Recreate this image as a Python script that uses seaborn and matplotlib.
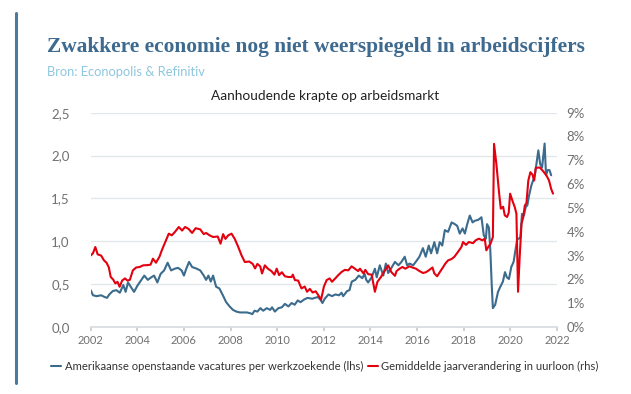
#!/usr/bin/env python3
"""vacatures per werkzoekende vs uurloon - recreate chart"""

import matplotlib.pyplot as plt
import matplotlib.ticker as mticker
import pandas as pd
import seaborn as sns
from matplotlib.lines import Line2D

# openstaande vacatures per werkzoekende (lhs)
vac_year = [2002.0, 2002.1, 2002.25, 2002.45, 2002.6, 2002.7, 2002.8, 2002.95, 2003.1, 2003.25,
            2003.4, 2003.5, 2003.6, 2003.72, 2003.86, 2004.0, 2004.15, 2004.3, 2004.45, 2004.6,
            2004.72, 2004.86, 2005.0, 2005.15, 2005.3, 2005.45, 2005.6, 2005.75, 2005.9, 2006.0,
            2006.1, 2006.22, 2006.35, 2006.55, 2006.7, 2006.85, 2006.95, 2007.05, 2007.15, 2007.25,
            2007.38, 2007.52, 2007.67, 2007.81, 2007.96, 2008.1, 2008.25, 2008.4, 2008.7, 2008.85,
            2008.93, 2009.03, 2009.15, 2009.28, 2009.4, 2009.55, 2009.7, 2009.78, 2009.9, 2010.05,
            2010.2, 2010.33, 2010.48, 2010.62, 2010.75, 2010.88, 2011.0, 2011.15, 2011.3, 2011.5,
            2011.74, 2011.85, 2011.94, 2012.04, 2012.2, 2012.35, 2012.5, 2012.65, 2012.76, 2012.83,
            2013.0, 2013.1, 2013.2, 2013.35, 2013.5, 2013.65, 2013.75, 2013.82, 2013.9, 2014.05,
            2014.19, 2014.27, 2014.4, 2014.55, 2014.66, 2014.76, 2014.9, 2015.05, 2015.2, 2015.33,
            2015.47, 2015.57, 2015.68, 2015.83, 2015.97, 2016.1, 2016.25, 2016.37, 2016.5, 2016.6,
            2016.74, 2016.86, 2016.97, 2017.08, 2017.19, 2017.33, 2017.48, 2017.62, 2017.72, 2017.83,
            2017.95, 2018.05, 2018.15, 2018.26, 2018.38, 2018.48, 2018.62, 2018.76, 2018.86, 2018.95,
            2019.0, 2019.08, 2019.14, 2019.2, 2019.25, 2019.35, 2019.47, 2019.57, 2019.68, 2019.77,
            2019.85, 2019.94, 2020.04, 2020.14, 2020.22, 2020.3, 2020.37, 2020.43, 2020.5, 2020.58,
            2020.66, 2020.73, 2020.8, 2020.9, 2021.0, 2021.06, 2021.14, 2021.2, 2021.28, 2021.36,
            2021.47, 2021.53, 2021.6, 2021.68, 2021.75]
vac_ratio = [0.43, 0.37, 0.36, 0.37, 0.35, 0.34, 0.38, 0.42, 0.43, 0.40,
             0.49, 0.41, 0.52, 0.47, 0.41, 0.48, 0.54, 0.60, 0.55, 0.58,
             0.60, 0.52, 0.62, 0.66, 0.75, 0.66, 0.68, 0.69, 0.66, 0.60,
             0.68, 0.76, 0.70, 0.68, 0.66, 0.60, 0.55, 0.60, 0.53, 0.60,
             0.47, 0.45, 0.37, 0.29, 0.24, 0.20, 0.18, 0.17, 0.17, 0.16,
             0.15, 0.19, 0.18, 0.22, 0.19, 0.22, 0.20, 0.23, 0.18, 0.22,
             0.23, 0.27, 0.24, 0.28, 0.26, 0.31, 0.29, 0.32, 0.34, 0.33,
             0.35, 0.32, 0.28, 0.33, 0.38, 0.36, 0.38, 0.37, 0.40, 0.36,
             0.42, 0.43, 0.53, 0.55, 0.60, 0.57, 0.62, 0.55, 0.52, 0.58,
             0.68, 0.58, 0.72, 0.60, 0.74, 0.63, 0.69, 0.76, 0.72, 0.76,
             0.82, 0.72, 0.74, 0.72, 0.77, 0.82, 0.92, 0.82, 0.95, 0.86,
             0.99, 0.86, 0.99, 0.95, 1.13, 1.11, 1.22, 1.20, 1.18, 1.09,
             1.15, 1.09, 1.20, 1.30, 1.22, 1.24, 1.25, 1.28, 1.07, 1.03,
             1.20, 1.16, 0.90, 0.50, 0.22, 0.26, 0.41, 0.47, 0.53, 0.64,
             0.58, 0.56, 0.70, 0.76, 0.90, 1.03, 1.03, 1.05, 1.32, 1.30,
             1.40, 1.42, 1.53, 1.65, 1.73, 1.79, 1.94, 2.06, 1.90, 1.86,
             2.14, 1.77, 1.83, 1.83, 1.77]

# gemiddelde jaarverandering uurloon in % (rhs)
loon_year = [2002.0, 2002.1, 2002.2, 2002.3, 2002.45, 2002.57, 2002.68, 2002.78, 2002.86, 2002.96,
             2003.06, 2003.15, 2003.24, 2003.35, 2003.47, 2003.58, 2003.68, 2003.81, 2003.95, 2004.1,
             2004.25, 2004.45, 2004.57, 2004.67, 2004.8, 2004.95, 2005.05, 2005.2, 2005.35, 2005.48,
             2005.62, 2005.78, 2005.92, 2006.05, 2006.2, 2006.35, 2006.5, 2006.7, 2006.85, 2006.95,
             2007.1, 2007.25, 2007.45, 2007.57, 2007.68, 2007.78, 2007.9, 2008.04, 2008.18, 2008.33,
             2008.47, 2008.61, 2008.8, 2008.95, 2009.05, 2009.15, 2009.27, 2009.35, 2009.47, 2009.6,
             2009.75, 2009.88, 2009.98, 2010.08, 2010.2, 2010.33, 2010.48, 2010.62, 2010.67, 2010.76,
             2010.9, 2011.04, 2011.18, 2011.28, 2011.4, 2011.52, 2011.65, 2011.76, 2011.88, 2011.95,
             2012.0, 2012.12, 2012.25, 2012.35, 2012.5, 2012.62, 2012.76, 2012.9, 2013.05, 2013.19,
             2013.33, 2013.47, 2013.55, 2013.7, 2013.78, 2013.9, 2014.05, 2014.19, 2014.3, 2014.45,
             2014.57, 2014.67, 2014.76, 2014.9, 2015.05, 2015.12, 2015.25, 2015.37, 2015.5, 2015.67,
             2015.8, 2015.95, 2016.1, 2016.25, 2016.38, 2016.5, 2016.66, 2016.74, 2016.86, 2016.97,
             2017.12, 2017.2, 2017.33, 2017.47, 2017.6, 2017.75, 2017.9, 2017.97, 2018.1, 2018.22,
             2018.4, 2018.51, 2018.65, 2018.8, 2018.9, 2018.97, 2019.05, 2019.15, 2019.25, 2019.3,
             2019.4, 2019.52, 2019.59, 2019.69, 2019.76, 2019.86, 2019.93, 2019.99, 2020.09, 2020.19,
             2020.26, 2020.33, 2020.4, 2020.48, 2020.55, 2020.62, 2020.69, 2020.77, 2020.86, 2020.95,
             2021.02, 2021.09, 2021.26, 2021.4, 2021.55, 2021.66, 2021.75, 2021.83]
loon_pct = [3.0, 3.1, 3.36, 3.05, 3.0, 2.8, 2.7, 2.5, 2.1, 2.0,
            1.83, 1.9, 1.69, 1.95, 2.04, 1.95, 1.98, 2.38, 2.5, 2.52,
            2.59, 2.6, 2.62, 2.87, 2.7, 2.95, 3.22, 3.57, 3.92, 3.85,
            4.0, 4.2, 4.05, 4.2, 4.12, 3.95, 4.15, 4.1, 3.9, 3.95,
            3.85, 3.78, 3.8, 3.5, 3.9, 3.7, 3.85, 3.92, 3.7, 3.36,
            3.01, 2.73, 2.75, 2.65, 2.46, 2.65, 2.55, 2.25, 2.59, 2.45,
            2.35, 2.2, 2.45, 2.18, 2.3, 2.13, 2.1, 2.1, 2.2, 1.97,
            1.95, 1.62, 1.7, 1.48, 1.6, 1.45, 1.5, 1.34, 1.15, 1.45,
            1.69, 1.97, 2.04, 1.9, 2.05, 2.18, 2.31, 2.4, 2.38, 2.55,
            2.45, 2.35, 2.45, 2.25, 2.4, 2.22, 2.2, 1.48, 1.9, 2.1,
            2.3, 2.45, 2.59, 2.3, 2.15, 2.35, 2.45, 2.52, 2.45, 2.55,
            2.5, 2.45, 2.35, 2.27, 2.3, 2.38, 2.5, 2.25, 2.13, 2.3,
            2.52, 2.65, 2.8, 2.85, 2.95, 3.15, 3.36, 3.57, 3.45, 3.57,
            3.52, 3.64, 3.71, 3.64, 3.71, 3.22, 3.36, 3.5, 3.78, 7.69,
            6.85, 5.6, 4.97, 5.05, 4.69, 4.62, 4.8, 5.6, 5.3, 5.03,
            4.76, 1.48, 2.94, 4.34, 4.6, 5.1, 5.2, 6.15, 6.5, 6.4,
            6.15, 6.68, 6.7, 6.55, 6.36, 6.15, 5.8, 5.6]

x_ticks = list(range(2002, 2023, 2))
lhs_ticks = [0.0, 0.5, 1.0, 1.5, 2.0, 2.5]
rhs_ticks = list(range(0, 10))

label_vac = "Amerikaanse openstaande vacatures per werkzoekende (lhs)"
label_loon = "Gemiddelde jaarverandering in uurloon (rhs)"

BLUE = "#3b6b8d"
RED = "#e3000f"
TICK = "#707070"

sns.set_theme(style="white")
plt.rcParams['font.family'] = ['Lato', 'DejaVu Sans']

vac = pd.DataFrame({"jaar": vac_year, "waarde": vac_ratio})
loon = pd.DataFrame({"jaar": loon_year, "waarde": loon_pct})

fig = plt.figure(figsize=(6.31, 3.94), dpi=100)
ax = fig.add_axes([0.1437, 0.170, 0.7390, 0.544])
ax2 = ax.twinx()

sns.lineplot(data=vac, x="jaar", y="waarde", ax=ax, color=BLUE, linewidth=1.5)
sns.lineplot(data=loon, x="jaar", y="waarde", ax=ax2, color=RED, linewidth=1.5)

ax.set_xlim(2002, 2022)
ax.set_ylim(0, 2.5)
ax2.set_ylim(0, 9)
ax.set_xticks(x_ticks)
ax.set_yticks(lhs_ticks)
ax2.set_yticks(rhs_ticks)
ax.yaxis.set_major_formatter(mticker.FuncFormatter(lambda v, p: f"{v:.1f}".replace(".", ",")))
ax2.yaxis.set_major_formatter(mticker.FuncFormatter(lambda v, p: f"{int(v)}%"))
ax.set_xlabel("")
ax.set_ylabel("")
ax2.set_ylabel("")

ax.grid(axis="y", color="#e3e6ea", linewidth=1.0)
ax.set_axisbelow(True)
ax2.grid(False)
for a in (ax, ax2):
    for s in ("top", "left", "right"):
        a.spines[s].set_visible(False)
ax.spines["bottom"].set_color("#d8dde2")
ax2.spines["bottom"].set_visible(False)
ax.tick_params(axis="x", bottom=True, length=3, color="#c8ccd0", labelsize=8, labelcolor=TICK, pad=3)
ax.tick_params(axis="y", left=False, labelsize=9.5, labelcolor=TICK, pad=9)
ax2.tick_params(axis="y", right=False, labelsize=9.5, labelcolor=TICK, pad=1)

# titels
title = fig.text(0.074, 0.88, "Zwakkere economie nog niet weerspiegeld in arbeidscijfers",
                 fontsize=15, fontweight="bold", color="#3d6a8e", family="Liberation Serif",
                 va="center")
# breedte van de titel laten passen (ca. 538 px zoals in het origineel)
fig.canvas.draw()
w = title.get_window_extent().width
title.set_fontsize(15 * 538 / w)

fig.text(0.074, 0.817, "Bron: Econopolis & Refinitiv", fontsize=9.3, color="#8ec6df", va="center")
fig.text(0.515, 0.756, "Aanhoudende krapte op arbeidsmarkt", fontsize=9.8, color="#222222",
         ha="center", va="center")

# verticale balk links
fig.add_artist(Line2D([0.026, 0.026], [0.028, 0.967], color="#4a7aa0", linewidth=2.2))

handles = [Line2D([], [], color=BLUE, linewidth=1.5), Line2D([], [], color=RED, linewidth=1.5)]
fig.legend(handles, [label_vac, label_loon], loc="center", bbox_to_anchor=(0.515, 0.071), ncol=2,
           frameon=False, fontsize=8.1, handlelength=0.9, handletextpad=0.3, columnspacing=0.4,
           labelcolor="#333333")

fig.savefig("out.png", dpi=100)
